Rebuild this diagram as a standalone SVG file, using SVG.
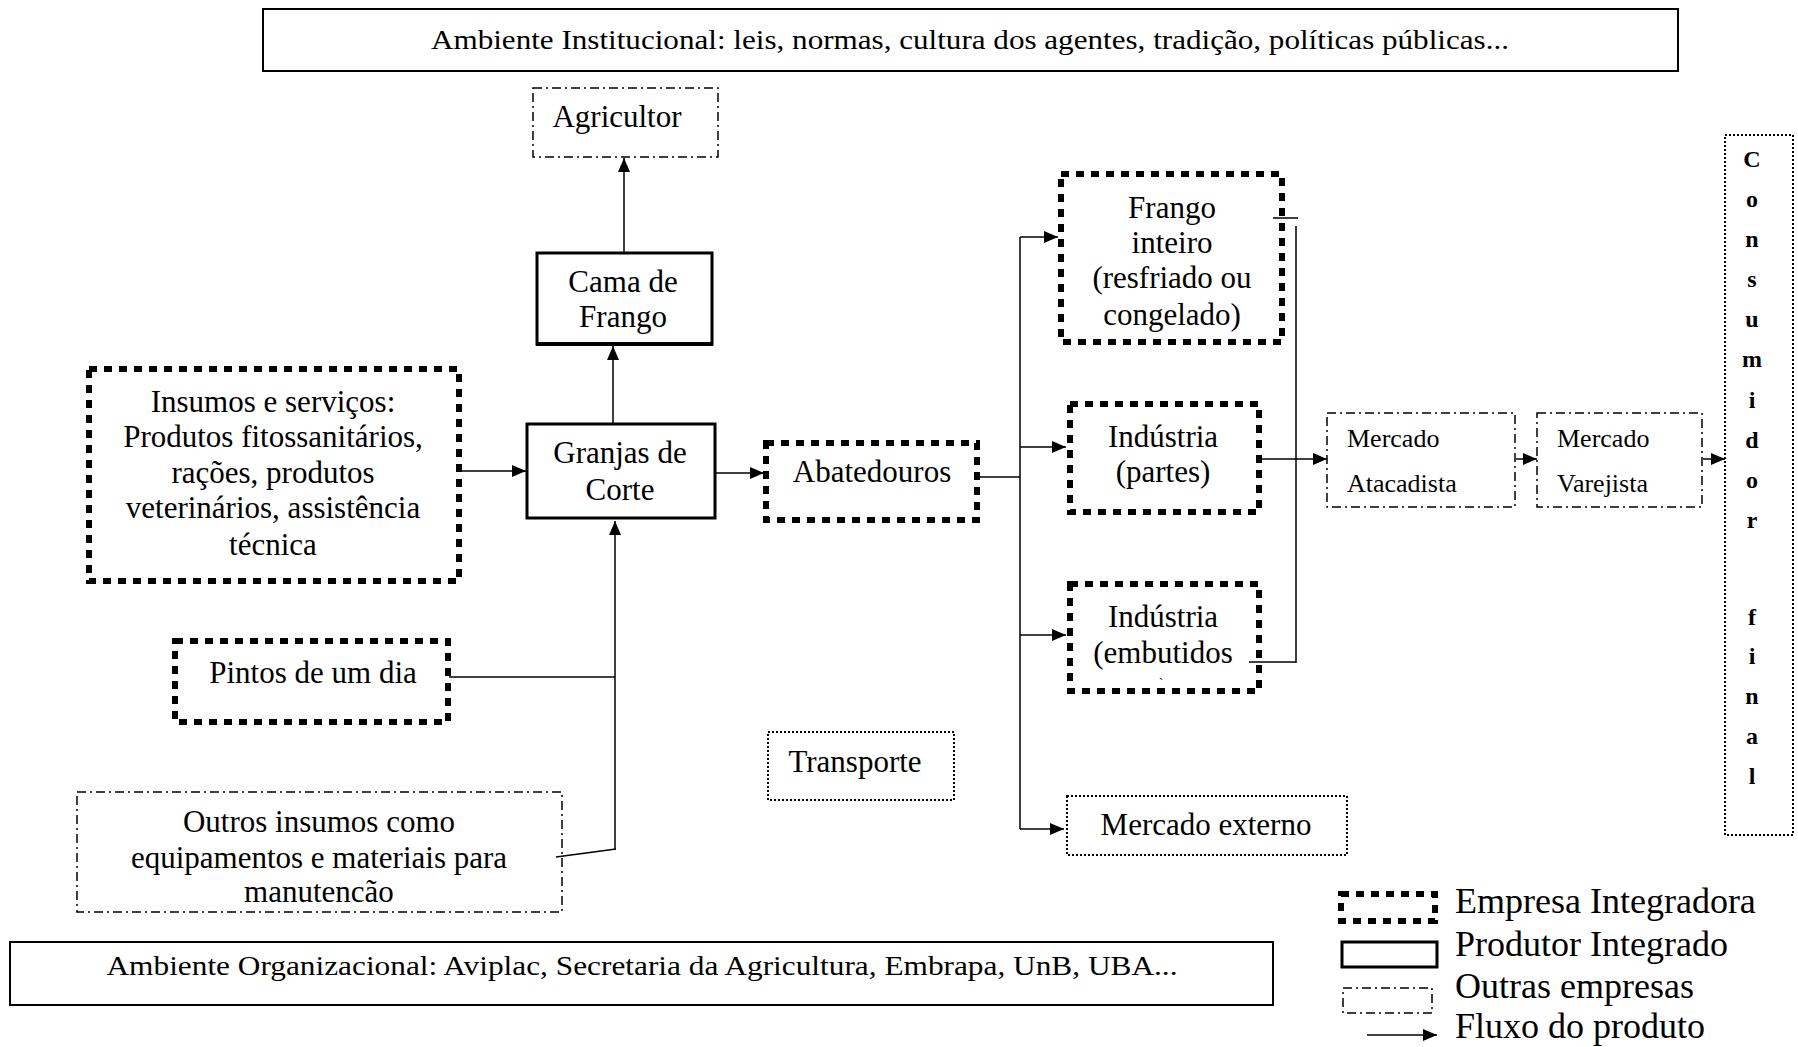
<svg xmlns="http://www.w3.org/2000/svg" width="1798" height="1047" viewBox="0 0 1798 1047">
<style>
text{font-family:"Liberation Serif","Times New Roman",serif;fill:#000}
.t{font-size:31px;text-anchor:middle}
.s{font-size:26px}
.lg{font-size:36px}
.c{font-size:24px;font-weight:bold;text-anchor:middle}
.env{fill:#fff;stroke:#000;stroke-width:2}
.emp{fill:#fff;stroke:#000;stroke-width:6;stroke-dasharray:8 7}
.prod{fill:#fff;stroke:#000;stroke-width:3}
.out{fill:#fff;stroke:#000;stroke-width:1.5;stroke-dasharray:9 4 2 4}
.dot{fill:#fff;stroke:#000;stroke-width:2;stroke-dasharray:2 2}
.ln{fill:none;stroke:#000;stroke-width:1.5}
.ar{fill:none;stroke:#000;stroke-width:1.5;marker-end:url(#ah)}
</style>
<defs>
<marker id="ah" markerUnits="userSpaceOnUse" markerWidth="14" markerHeight="12" refX="14" refY="6" orient="auto">
<path d="M0,0 L14,6 L0,12 Z" fill="#000"/>
</marker>
</defs>
<rect width="1798" height="1047" fill="#fff"/>

<g id="ambiente-institucional">
<rect class="env" x="263" y="9" width="1415" height="62"/>
<text x="970" y="49" style="font-size:28px;text-anchor:middle" textLength="1078" lengthAdjust="spacingAndGlyphs">Ambiente Institucional: leis, normas, cultura dos agentes, tradição, políticas públicas...</text>
</g>

<g id="agricultor">
<rect class="out" x="533" y="88" width="185" height="69"/>
<text class="t" x="617" y="127">Agricultor</text>
</g>

<g id="cama-de-frango">
<rect class="prod" x="537" y="253" width="175" height="91"/>
<line x1="536" y1="344" x2="713" y2="344" stroke="#000" stroke-width="4"/>
<text class="t" x="623" y="292">Cama de</text>
<text class="t" x="623" y="327">Frango</text>
</g>

<g id="insumos">
<rect class="emp" x="89" y="369" width="370" height="212"/>
<text class="t" x="273" y="412">Insumos e serviços:</text>
<text class="t" x="273" y="447">Produtos fitossanitários,</text>
<text class="t" x="273" y="483">rações, produtos</text>
<text class="t" x="273" y="518">veterinários, assistência</text>
<text class="t" x="273" y="555">técnica</text>
</g>

<g id="granjas-de-corte">
<rect class="prod" x="527" y="424" width="188" height="94"/>
<text class="t" x="620" y="463">Granjas de</text>
<text class="t" x="620" y="500">Corte</text>
</g>

<g id="abatedouros">
<rect class="emp" x="766" y="443" width="211" height="77"/>
<text class="t" x="872" y="482">Abatedouros</text>
</g>

<g id="pintos">
<rect class="emp" x="175" y="641" width="273" height="81"/>
<text class="t" x="313" y="683">Pintos de um dia</text>
</g>

<g id="outros-insumos">
<rect class="out" x="77" y="792" width="485" height="120"/>
<text class="t" x="319" y="832">Outros insumos como</text>
<text class="t" x="319" y="868">equipamentos e materiais para</text>
<text class="t" x="319" y="902">manutencão</text>
</g>

<g id="transporte">
<rect class="dot" x="768" y="732" width="186" height="68"/>
<text class="t" x="855" y="772">Transporte</text>
</g>

<g id="frango-inteiro">
<rect class="emp" x="1061" y="174" width="221" height="168"/>
<text class="t" x="1172" y="218">Frango</text>
<text class="t" x="1172" y="253">inteiro</text>
<text class="t" x="1172" y="288">(resfriado ou</text>
<text class="t" x="1172" y="325">congelado)</text>
</g>

<g id="industria-partes">
<rect class="emp" x="1070" y="404" width="189" height="108"/>
<text class="t" x="1163" y="447">Indústria</text>
<text class="t" x="1163" y="482">(partes)</text>
</g>

<g id="industria-embutidos">
<rect class="emp" x="1070" y="584" width="189" height="107"/>
<text class="t" x="1163" y="627">Indústria</text>
<text class="t" x="1163" y="663">(embutidos</text>
<text x="1161" y="688" style="font-size:14px;text-anchor:middle">`</text>
</g>

<g id="mercado-externo">
<rect class="dot" x="1067" y="796" width="280" height="59"/>
<text class="t" x="1206" y="835">Mercado externo</text>
</g>

<g id="mercado-atacadista">
<rect class="out" x="1327" y="413" width="188" height="94"/>
<text class="s" x="1347" y="447">Mercado</text>
<text class="s" x="1347" y="492">Atacadista</text>
</g>

<g id="mercado-varejista">
<rect class="out" x="1537" y="413" width="165" height="94"/>
<text class="s" x="1557" y="447">Mercado</text>
<text class="s" x="1557" y="492">Varejista</text>
</g>

<g id="consumidor-final">
<rect class="dot" x="1725" y="135" width="68" height="700"/>
<text class="c" x="1752" y="167">C</text>
<text class="c" x="1752" y="207">o</text>
<text class="c" x="1752" y="247">n</text>
<text class="c" x="1752" y="287">s</text>
<text class="c" x="1752" y="327">u</text>
<text class="c" x="1752" y="367">m</text>
<text class="c" x="1752" y="408">i</text>
<text class="c" x="1752" y="448">d</text>
<text class="c" x="1752" y="488">o</text>
<text class="c" x="1752" y="528">r</text>
<text class="c" x="1752" y="625">f</text>
<text class="c" x="1752" y="664">i</text>
<text class="c" x="1752" y="704">n</text>
<text class="c" x="1752" y="744">a</text>
<text class="c" x="1752" y="784">l</text>
</g>

<g id="ambiente-organizacional">
<rect class="env" x="10" y="942" width="1263" height="63"/>
<text x="642" y="975" style="font-size:28px;text-anchor:middle" textLength="1071" lengthAdjust="spacingAndGlyphs">Ambiente Organizacional: Aviplac, Secretaria da Agricultura, Embrapa, UnB, UBA...</text>
</g>

<g id="connectors">
<line class="ar" x1="624" y1="252" x2="624" y2="158"/>
<line class="ar" x1="613" y1="424" x2="613" y2="346"/>
<line class="ar" x1="462" y1="471" x2="526" y2="471"/>
<line class="ar" x1="716" y1="473" x2="764" y2="473"/>
<line class="ar" x1="615" y1="849" x2="615" y2="521"/>
<line class="ln" x1="449" y1="677" x2="615" y2="677"/>
<line class="ln" x1="556" y1="857" x2="616" y2="849"/>
<line class="ln" x1="978" y1="477" x2="1020" y2="477"/>
<line class="ln" x1="1020" y1="237" x2="1020" y2="829"/>
<line class="ar" x1="1020" y1="237" x2="1058" y2="237"/>
<line class="ar" x1="1020" y1="447" x2="1066" y2="447"/>
<line class="ar" x1="1020" y1="635" x2="1066" y2="635"/>
<line class="ar" x1="1020" y1="829" x2="1064" y2="829"/>
<line class="ln" x1="1273" y1="218" x2="1298" y2="218"/>
<line class="ln" x1="1296" y1="226" x2="1296" y2="663"/>
<line class="ln" x1="1249" y1="662" x2="1296" y2="662"/>
<line class="ar" x1="1262" y1="459" x2="1327" y2="459"/>
<line class="ar" x1="1516" y1="459" x2="1537" y2="459"/>
<line class="ar" x1="1703" y1="459" x2="1725" y2="459"/>
</g>

<g id="legend">
<rect class="emp" x="1341" y="894" width="94" height="27"/>
<text class="lg" x="1455" y="913">Empresa Integradora</text>
<rect class="prod" x="1342" y="942" width="95" height="25"/>
<text class="lg" x="1455" y="956">Produtor Integrado</text>
<rect class="out" x="1343" y="988" width="89" height="25"/>
<text class="lg" x="1455" y="998">Outras empresas</text>
<line class="ar" x1="1367" y1="1035" x2="1437" y2="1035"/>
<text class="lg" x="1455" y="1038">Fluxo do produto</text>
</g>
</svg>
